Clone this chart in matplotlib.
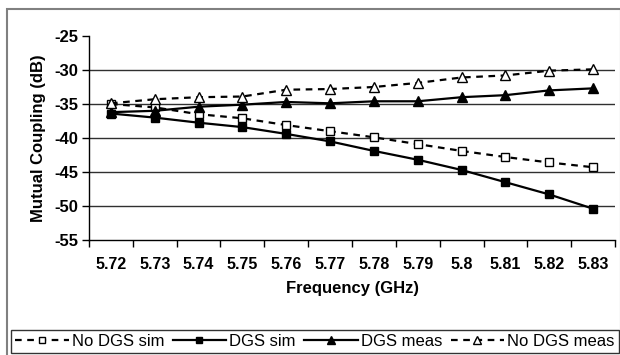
import matplotlib.pyplot as plt
from matplotlib.patches import Rectangle
from matplotlib.lines import Line2D

plt.rcParams['font.family'] = ['Liberation Sans', 'DejaVu Sans']

# frequency categories (GHz)
freq = ["5.72", "5.73", "5.74", "5.75", "5.76", "5.77", "5.78", "5.79", "5.8", "5.81", "5.82", "5.83"]

# mutual coupling values (dB)
no_dgs_sim = [-35.0, -35.5, -36.5, -37.1, -38.1, -39.0, -39.9, -40.9, -41.9, -42.8, -43.6, -44.3]
dgs_sim = [-36.4, -37.0, -37.75, -38.4, -39.4, -40.5, -41.9, -43.2, -44.7, -46.5, -48.3, -50.4]
dgs_meas = [-36.2, -36.0, -35.4, -35.1, -34.7, -34.9, -34.6, -34.6, -34.0, -33.7, -33.0, -32.7]
no_dgs_meas = [-34.9, -34.3, -34.0, -33.9, -32.9, -32.8, -32.5, -31.9, -31.1, -30.8, -30.1, -29.9]

W, H = 620, 355
fig = plt.figure(figsize=(6.2, 3.55), dpi=100)

# outer chart border
fig.patches.append(Rectangle((7 / W, -0.01), 0.99, 1 - 9 / H + 0.01, transform=fig.transFigure,
                             fill=False, edgecolor='#808080', linewidth=1.5))

ax = fig.add_axes([89 / W, 1 - 240 / H, (615 - 89) / W, (240 - 36) / H])
x = list(range(len(freq)))

ax.plot(x, no_dgs_sim, color='black', linestyle=(0, (3, 2.5)), linewidth=1.6,
        marker='s', markersize=6, markerfacecolor='white', markeredgecolor='black', label='No DGS sim')
ax.plot(x, dgs_sim, color='black', linestyle='-', linewidth=1.6,
        marker='s', markersize=6, markerfacecolor='black', label='DGS sim')
ax.plot(x, dgs_meas, color='black', linestyle='-', linewidth=1.6,
        marker='^', markersize=7, markerfacecolor='black', label='DGS meas')
ax.plot(x, no_dgs_meas, color='black', linestyle=(0, (3, 2.5)), linewidth=1.6,
        marker='^', markersize=7, markerfacecolor='white', markeredgecolor='black', label='No DGS meas')

ax.set_xlim(-0.5, len(freq) - 0.5)
ax.set_ylim(-55, -25)
ax.set_yticks([-55, -50, -45, -40, -35, -30, -25])
ax.set_yticklabels(['-55', '-50', '-45', '-40', '-35', '-30', '-25'], fontweight='bold', fontsize=12)
ax.set_xticks(x)
ax.set_xticklabels(freq, fontweight='bold', fontsize=11.5)
ax.set_xticks([i - 0.5 for i in range(len(freq) + 1)], minor=True)
ax.tick_params(axis='x', which='major', length=0, pad=12)
ax.tick_params(axis='x', which='minor', length=5, width=1, direction='out')
ax.tick_params(axis='y', length=5, width=1, direction='out', pad=3)

for v in [-50, -45, -40, -35, -30]:
    ax.axhline(v, color='#303030', linewidth=1, zorder=0)

for s in ['top', 'right']:
    ax.spines[s].set_visible(False)
ax.spines['left'].set_linewidth(1)
ax.spines['bottom'].set_linewidth(1)

ax.set_xlabel('Frequency (GHz)', fontweight='bold', fontsize=12, labelpad=7)
ax.set_ylabel('Mutual Coupling (dB)', fontweight='bold', fontsize=12, labelpad=6)

handles = [
    Line2D([], [], color='black', linestyle=(0, (3, 2.5)), linewidth=1.6, marker='s', markersize=5,
           markerfacecolor='white', markeredgecolor='black'),
    Line2D([], [], color='black', linestyle='-', linewidth=1.6, marker='s', markersize=5, markerfacecolor='black'),
    Line2D([], [], color='black', linestyle='-', linewidth=1.6, marker='^', markersize=6, markerfacecolor='black'),
    Line2D([], [], color='black', linestyle=(0, (3, 2.5)), linewidth=1.6, marker='^', markersize=6,
           markerfacecolor='white', markeredgecolor='black'),
]
leg = fig.legend(handles, ['No DGS sim', 'DGS sim', 'DGS meas', 'No DGS meas'],
                 loc='lower left', bbox_to_anchor=(11 / W, 1 - 353 / H, (619 - 11) / W, 29 / H),
                 mode='expand', ncol=4, fontsize=12, frameon=True, fancybox=False,
                 handlelength=3.2, handletextpad=0.2, columnspacing=0.5, borderpad=0.25,
                 borderaxespad=0)
leg.get_frame().set_edgecolor('black')
leg.get_frame().set_linewidth(1)

fig.savefig('out.png', dpi=100)
